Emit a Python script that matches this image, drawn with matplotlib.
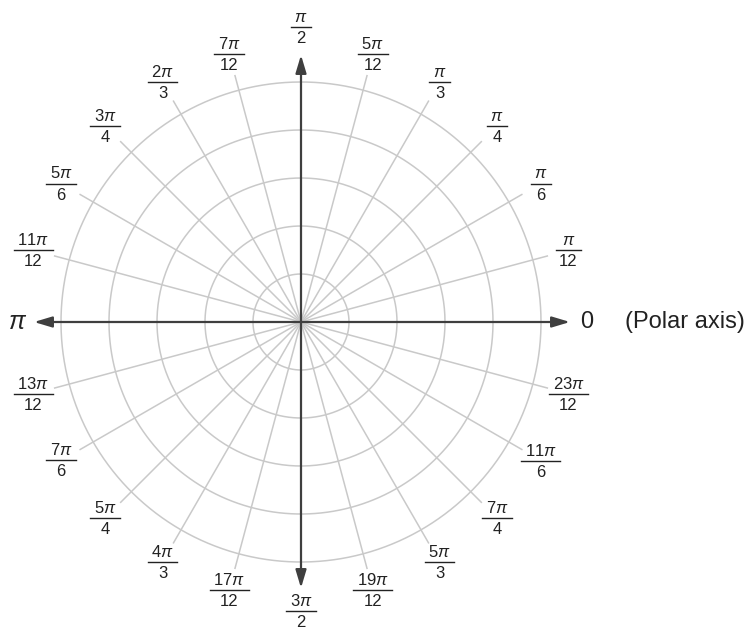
import numpy as np
import matplotlib.pyplot as plt

plt.rcParams['mathtext.fontset'] = 'custom'
plt.rcParams['mathtext.rm'] = 'Liberation Sans'
plt.rcParams['mathtext.it'] = 'Liberation Sans:italic'
plt.rcParams['font.family'] = ['Liberation Sans', 'DejaVu Sans']

# grid circles (pixel radius) and spokes every pi/12
radii = [48, 96, 144, 192, 240]
n_spokes = 24
# angle labels: (numerator, denominator) for k*pi/12, k = 1..23, skipping axes
num = ['\\pi', '\\pi', '\\pi', '\\pi', '5\\pi', None, '7\\pi', '2\\pi', '3\\pi', '5\\pi', '11\\pi', None,
       '13\\pi', '7\\pi', '5\\pi', '4\\pi', '17\\pi', None, '19\\pi', '5\\pi', '7\\pi', '11\\pi', '23\\pi']
den = ['12', '6', '4', '3', '12', None, '12', '3', '4', '6', '12', None,
       '12', '6', '4', '3', '12', None, '12', '3', '4', '6', '12']
vert_labels = {6: ('\\pi', '2'), 18: ('3\\pi', '2')}

grid_c = '#c9c9c9'
axis_c = '#3f3f3f'
txt_c = '#222222'

fig = plt.figure(figsize=(7.46, 6.36), dpi=100)
ax = fig.add_axes([0, 0, 1, 1])
ax.set_xlim(-301, 445)
ax.set_ylim(-314, 322)
ax.set_aspect('equal')
ax.axis('off')

t = np.linspace(0, 2 * np.pi, 400)
for r in radii:
    ax.plot(r * np.cos(t), r * np.sin(t), color=grid_c, lw=1.1, zorder=1)

r_spoke = 255
for k in range(n_spokes):
    a = k * np.pi / 12
    ax.plot([0, r_spoke * np.cos(a)], [0, r_spoke * np.sin(a)], color=grid_c, lw=1.1, zorder=1)

ax.annotate('', xy=(269, 0), xytext=(-267, 0),
            arrowprops=dict(arrowstyle='<|-|>,head_length=0.6,head_width=0.18',
                            color=axis_c, lw=1.6, mutation_scale=18, shrinkA=0, shrinkB=0))
ax.annotate('', xy=(0, 267), xytext=(0, -266),
            arrowprops=dict(arrowstyle='<|-|>,head_length=0.6,head_width=0.18',
                            color=axis_c, lw=1.6, mutation_scale=18, shrinkA=0, shrinkB=0))

ax.text(286, 0, '0', fontsize=17, ha='center', va='center', color=txt_c)
ax.text(324, 0, '(Polar axis)', fontsize=17, ha='left', va='center', color=txt_c)
ax.text(-283, 0, r'$\pi$', fontsize=18, ha='center', va='center', color=txt_c,
        fontweight='bold')


def fraction(x, y, n, d):
    t1 = ax.text(x, y + 2, '$' + n + '$', fontsize=12, ha='center', va='bottom', color=txt_c)
    t2 = ax.text(x, y - 4, d, fontsize=12, ha='center', va='top', color=txt_c)
    return t1, t2


items = []
for k in range(1, 24):
    if num[k - 1] is None:
        continue
    a = k * np.pi / 12
    r = 277
    x, y = r * np.cos(a), r * np.sin(a)
    items.append((x, y) + fraction(x, y, num[k - 1], den[k - 1]))
for k, (n, d) in vert_labels.items():
    a = k * np.pi / 12
    r = 295 if k == 6 else 289
    x, y = r * np.cos(a), r * np.sin(a)
    items.append((x, y) + fraction(x, y, n, d))

fig.canvas.draw()
rend = fig.canvas.get_renderer()
for x, y, t1, t2 in items:
    w = max(t1.get_window_extent(rend).width, t2.get_window_extent(rend).width) + 7
    ax.plot([x - w / 2, x + w / 2], [y, y], color=txt_c, lw=1.0)

fig.savefig('out.png', dpi=100)
